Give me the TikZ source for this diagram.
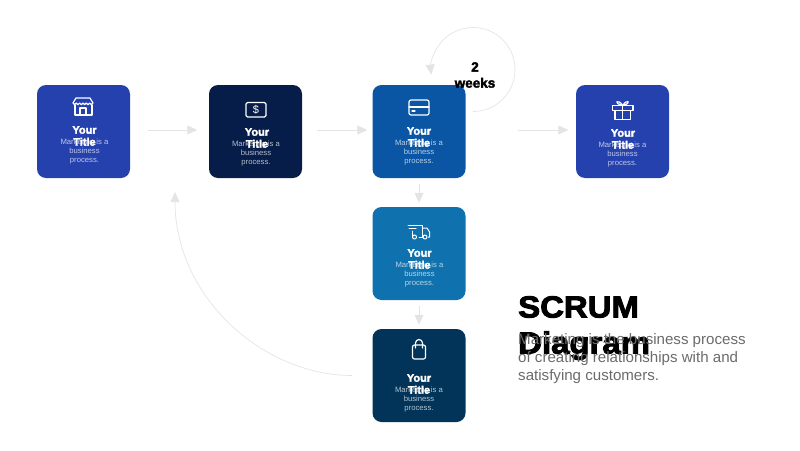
\documentclass[tikz,border=0pt]{standalone}
\usepackage{fontspec}
\setmainfont{Liberation Sans}
\newfontfamily\heavyfont[FakeBold=2.5]{Liberation Sans Bold}
\newfontfamily\headfont[FakeBold=3,FakeStretch=1.08]{Liberation Sans Bold}
\usetikzlibrary{arrows.meta}
\definecolor{royal}{HTML}{2541AE}
\definecolor{midnight}{HTML}{071D49}
\definecolor{cobalt}{HTML}{0A56A4}
\definecolor{ocean}{HTML}{0F72AE}
\definecolor{deepsea}{HTML}{023459}
\definecolor{flowgray}{HTML}{E4E4E4}
\begin{document}
\begin{tikzpicture}[x=1pt,y=-1pt]
	\tikzstyle{card}=[rounded corners=9pt,minimum size=93pt,inner sep=0pt]
	\tikzstyle{title}=[text=white,align=center,font=\heavyfont\fontsize{11}{12}\selectfont]
	\tikzstyle{body}=[text=white,text opacity=0.7,align=center,font=\fontsize{7.7}{9}\selectfont]
	\tikzstyle{flow}=[draw=flowgray,line width=0.7pt,-{Triangle[length=10pt,width=9pt,fill=flowgray]}]
	\tikzstyle{icon}=[draw=white,line width=1.2pt,line join=round,line cap=round]
	\useasboundingbox (0,0) rectangle (800,450);

	% cards
	\node[card,fill=royal] 		(store)	at (83.5,131.5)		{};
	\node[card,fill=midnight] 	(pay)	at (255.5,131.5)	{};
	\node[card,fill=cobalt] 	(sprint)	at (419,131.5)		{};
	\node[card,fill=royal] 		(gift)	at (622.5,131.5)	{};
	\node[card,fill=ocean] 		(truck)	at (419,253.5)		{};
	\node[card,fill=deepsea] 	(bag)	at (419,375.5)		{};

	% free ends of the arrows
	\coordinate (loopstart) at (473,111.5);
	\coordinate (backend) at (175,192);

	% arrows
	\draw[flow,shorten <=18pt,shorten >=11.5pt] ([yshift=1.5pt]store.east) -- ([yshift=1.5pt]pay.west);
	\draw[flow,shorten <=15pt,shorten >=5pt] ([yshift=1.5pt]pay.east) -- ([yshift=1.5pt]sprint.west);
	\draw[flow,shorten <=52pt,shorten >=7.5pt] ([yshift=1.5pt]sprint.east) -- ([yshift=1.5pt]gift.west);
	\draw[flow,shorten <=6pt,shorten >=4pt] (sprint.south) -- (truck.north);
	\draw[flow,shorten <=6pt,shorten >=4pt] (truck.south) -- (bag.north);
	\draw[flow] (loopstart) arc[start angle=-90,end angle=187,radius=42pt];
	\draw[flow,shorten <=20pt] (bag.west) .. controls (262,375.5) and (175,296) .. (backend);

	% body texts
	\node[body] (store-body)	at (84.5,152)	{Marketing is a\\business\\process.};
	\node[body] (pay-body)		at (256,154)	{Marketing is a\\business\\process.};
	\node[body] (sprint-body)	at (419,152.5)	{Marketing is a\\business\\process.};
	\node[body] (gift-body)		at (622.5,155)	{Marketing is a\\business\\process.};
	\node[body] (truck-body)	at (419.5,275)	{Marketing is a\\business\\process.};
	\node[body] (bag-body)		at (419,400)	{Marketing is a\\business\\process.};

	% titles
	\node[title] (store-title)	at (84.5,136)	{Your\\Title};
	\node[title] (pay-title)	at (257,138)	{Your\\Title};
	\node[title] (sprint-title)	at (419,137)	{Your\\Title};
	\node[title] (gift-title)	at (623,139)	{Your\\Title};
	\node[title] (truck-title)	at (419.5,259)	{Your\\Title};
	\node[title] (bag-title)	at (419,384)	{Your\\Title};

	% icons
	\draw[icon] (76,98) -- (90,98) -- (93,103) arc[start angle=0,end angle=-180,radius=1.67pt] arc[start angle=0,end angle=-180,radius=1.67pt] arc[start angle=0,end angle=-180,radius=1.67pt] arc[start angle=0,end angle=-180,radius=1.67pt] arc[start angle=0,end angle=-180,radius=1.67pt] arc[start angle=0,end angle=-180,radius=1.67pt] -- cycle;
	\draw[icon] (75,105) -- (75,115) -- (92,115) -- (92,105);
	\draw[icon] (80,115) -- (80,108) -- (86,108) -- (86,115);
	\draw[icon,rounded corners=1.5pt] (246,102.5) rectangle (266,117);
	\node[text=white,font=\fontsize{11}{11}\selectfont] (dollar) at (256,109.8) {\$};
	\draw[icon,rounded corners=2pt] (409,100) rectangle (429,115);
	\draw[icon] (409,107) -- (429,107);
	\draw[icon] (412,111) -- (415,111);
	\draw[icon] (612.5,105.5) rectangle (633,110.5);
	\draw[icon] (615,110.5) rectangle (630.5,119.5);
	\draw[icon] (622.7,105.5) -- (622.7,119.5);
	\draw[icon] (622.7,105.5) .. controls (618,98) and (612,103) .. (622.7,105.5);
	\draw[icon] (622.7,105.5) .. controls (627,98) and (633,103) .. (622.7,105.5);
	\draw[icon,line width=1pt] (408,225) -- (422,225) -- (422,237) -- (419,237);
	\draw[icon,line width=1pt] (409,228) -- (416,228);
	\draw[icon,line width=1pt] (412,231) -- (412,237);
	\draw[icon,line width=1pt] (422,228) -- (427,228) -- (429.5,232) -- (429.5,237) -- (428,237);
	\draw[icon,line width=1pt] (414.5,237) circle[radius=2pt];
	\draw[icon,line width=1pt] (425,237) circle[radius=2pt];
	\draw[icon,rounded corners=2pt] (412.5,345) rectangle (425.5,359);
	\draw[icon] (415.5,348) -- (415.5,343) arc[start angle=180,end angle=0,radius=3.5pt] -- (422.5,348);

	% loop label
	\node[align=center,font=\heavyfont\fontsize{13.5}{16}\selectfont] (cycle) at (475,75) {2\\weeks};

	% text block
	\node[anchor=north west,inner sep=0pt,align=left,font=\headfont\fontsize{30.5}{36}\selectfont] (heading) at (518,296) {SCRUM\\Diagram};
	\node[anchor=north west,inner sep=0pt,align=left,text=black!58,font=\fontsize{15.1}{18}\selectfont] (intro) at (518,333) {Marketing is the business process\\of creating relationships with and\\satisfying customers.};
\end{tikzpicture}
\end{document}
